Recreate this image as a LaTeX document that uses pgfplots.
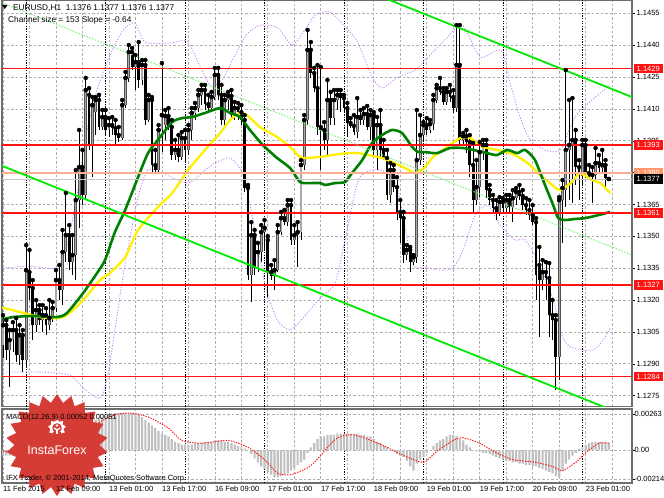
\documentclass[border=0pt]{standalone}
\usepackage{fontspec}
\setmainfont{Liberation Sans}
\usepackage{pgfplots}
\pgfplotsset{compat=1.18}
\usepackage{pgfplotstable}
\usetikzlibrary{shapes.geometric}

\definecolor{mtred}{RGB}{255,20,20}
\definecolor{mtsalmon}{RGB}{255,175,145}
\definecolor{mtorange}{RGB}{255,150,105}
\definecolor{mtgrid}{RGB}{175,175,175}
\definecolor{mtframe}{RGB}{110,110,110}
\definecolor{mtyellow}{RGB}{255,240,0}
\definecolor{mtdkgreen}{RGB}{0,128,0}
\definecolor{mtlime}{RGB}{0,235,0}
\definecolor{mtltgreen}{RGB}{120,240,120}
\definecolor{mtviolet}{RGB}{195,125,245}
\definecolor{mthist}{RGB}{192,192,192}
\definecolor{mtbullout}{RGB}{80,80,80}
\definecolor{mtbullin}{RGB}{170,170,170}
\definecolor{badge}{RGB}{214,60,54}
\definecolor{curline}{RGB}{200,200,200}

\newcommand{\tf}{\fontsize{7.5bp}{9bp}\selectfont}
\newcommand{\hf}{\fontsize{8.3bp}{10bp}\selectfont}

\pgfplotstableread{
x o h l c
0 1.12988 1.13129 1.12927 1.13082
1 1.13082 1.13106 1.12917 1.12965
2 1.12965 1.13059 1.12790 1.13012
3 1.13012 1.13096 1.12955 1.13059
4 1.13059 1.13115 1.12908 1.12941
5 1.12941 1.13082 1.12894 1.13035
6 1.13035 1.13059 1.12861 1.12917
7 1.12917 1.13459 1.12880 1.13341
8 1.13332 1.13436 1.13200 1.13256
9 1.13256 1.13294 1.13012 1.13082
10 1.13082 1.13200 1.13049 1.13153
11 1.13153 1.13176 1.13082 1.13106
12 1.13106 1.13176 1.13049 1.13129
13 1.13129 1.13162 1.13035 1.13082
14 1.13082 1.13200 1.13059 1.13115
15 1.13115 1.13191 1.13096 1.13162
16 1.13162 1.13341 1.13144 1.13294
17 1.13294 1.13365 1.13200 1.13247
18 1.13247 1.13530 1.13176 1.13426
19 1.13426 1.13704 1.13379 1.13506
20 1.13506 1.13553 1.13341 1.13379
21 1.13379 1.13506 1.13318 1.13412
22 1.13412 1.13812 1.13294 1.13671
23 1.13671 1.14001 1.13539 1.13826
24 1.13826 1.13907 1.13647 1.13695
25 1.13695 1.14246 1.13671 1.14189
26 1.14166 1.14198 1.13907 1.13930
27 1.13930 1.14156 1.13779 1.14118
28 1.14085 1.14156 1.13977 1.14142
29 1.14142 1.14166 1.14001 1.14015
30 1.14015 1.14095 1.14001 1.14062
31 1.14062 1.14095 1.13977 1.14001
32 1.14001 1.14057 1.13968 1.14024
33 1.14024 1.14062 1.13977 1.14010
34 1.14010 1.14048 1.13930 1.13977
35 1.13977 1.14015 1.13944 1.13963
36 1.13963 1.14142 1.13954 1.14118
37 1.14118 1.14274 1.14104 1.14246
38 1.14246 1.14401 1.14227 1.14368
39 1.14368 1.14387 1.14283 1.14297
40 1.14297 1.14354 1.14189 1.14321
41 1.14321 1.14415 1.14198 1.14236
42 1.14236 1.14330 1.14213 1.14307
43 1.14307 1.14330 1.14024 1.14048
44 1.14048 1.14166 1.14038 1.14142
45 1.14142 1.14156 1.13803 1.13836
46 1.13836 1.13907 1.13798 1.13812
47 1.13812 1.14024 1.13798 1.14001
48 1.14001 1.14316 1.13897 1.14071
49 1.14024 1.14095 1.13954 1.14067
50 1.14067 1.14104 1.14001 1.14015
51 1.14015 1.14048 1.13859 1.13883
52 1.13883 1.13954 1.13859 1.13907
53 1.13907 1.13977 1.13850 1.13874
54 1.13874 1.13991 1.13859 1.13963
55 1.13963 1.14001 1.13845 1.13907
56 1.13907 1.14024 1.13883 1.14001
57 1.14001 1.14104 1.13954 1.14081
58 1.14081 1.14128 1.14048 1.14104
59 1.14104 1.14189 1.14085 1.14166
60 1.14166 1.14213 1.14118 1.14189
61 1.14189 1.14213 1.14095 1.14123
62 1.14123 1.14166 1.14085 1.14104
63 1.14104 1.14180 1.14085 1.14156
64 1.14156 1.14293 1.14142 1.14260
65 1.14260 1.14293 1.14142 1.14166
66 1.14166 1.14213 1.14024 1.14048
67 1.14048 1.14166 1.14024 1.14142
68 1.14142 1.14180 1.14095 1.14161
69 1.14161 1.14189 1.14048 1.14071
70 1.14071 1.14133 1.14048 1.14104
71 1.14104 1.14128 1.14048 1.14085
72 1.14085 1.14118 1.14024 1.14048
73 1.14048 1.14071 1.13709 1.13728
74 1.13728 1.13742 1.13294 1.13318
75 1.13318 1.13567 1.13191 1.13506
76 1.13506 1.13530 1.13318 1.13351
77 1.13351 1.13469 1.13332 1.13426
78 1.13426 1.13553 1.13379 1.13520
79 1.13520 1.13577 1.13436 1.13539
80 1.13483 1.13501 1.13214 1.13332
81 1.13332 1.13365 1.13294 1.13313
82 1.13313 1.13388 1.13247 1.13341
83 1.13341 1.13553 1.13332 1.13520
84 1.13520 1.13615 1.13506 1.13586
85 1.13586 1.13624 1.13553 1.13567
86 1.13567 1.13671 1.13549 1.13647
87 1.13647 1.13671 1.13459 1.13483
88 1.13483 1.13553 1.13459 1.13506
89 1.13506 1.13567 1.13355 1.13520
90 1.13520 1.13859 1.13483 1.13836
91 1.13836 1.14071 1.13812 1.14048
92 1.14048 1.14472 1.14024 1.14378
93 1.14378 1.14415 1.14246 1.14269
94 1.14269 1.14293 1.14180 1.14198
95 1.14198 1.14307 1.13977 1.14015
96 1.14015 1.14297 1.13812 1.14001
97 1.14001 1.14038 1.13907 1.13954
98 1.13954 1.14236 1.13874 1.14142
99 1.14142 1.14180 1.14024 1.14057
100 1.14057 1.14189 1.14024 1.14142
101 1.14142 1.14189 1.14095 1.14166
102 1.14166 1.14189 1.14085 1.14151
103 1.14151 1.14166 1.14085 1.14104
104 1.14104 1.14128 1.13968 1.14034
105 1.14034 1.14057 1.14010 1.14020
106 1.14020 1.14071 1.13977 1.13991
107 1.13991 1.14151 1.13963 1.14062
108 1.14062 1.14095 1.14024 1.14048
109 1.14048 1.14104 1.14024 1.14076
110 1.14076 1.14114 1.14001 1.14015
111 1.14015 1.14095 1.13954 1.14071
112 1.14071 1.14085 1.13874 1.13907
113 1.13907 1.14062 1.13812 1.14024
114 1.14024 1.14095 1.13869 1.13907
115 1.13907 1.13954 1.13859 1.13869
116 1.13869 1.13907 1.13671 1.13695
117 1.13695 1.13845 1.13657 1.13812
118 1.13812 1.13836 1.13709 1.13732
119 1.13732 1.13779 1.13577 1.13615
120 1.13615 1.13671 1.13469 1.13586
121 1.13586 1.13615 1.13374 1.13412
122 1.13412 1.13459 1.13388 1.13436
123 1.13436 1.13450 1.13332 1.13379
124 1.13379 1.13412 1.13365 1.13402
125 1.13402 1.14095 1.13374 1.13859
126 1.13859 1.14071 1.13836 1.13977
127 1.13977 1.14038 1.13944 1.14024
128 1.14024 1.14057 1.13977 1.14001
129 1.14001 1.14048 1.13987 1.14029
130 1.14029 1.14166 1.14001 1.14142
131 1.14142 1.14213 1.14128 1.14198
132 1.14198 1.14246 1.14166 1.14180
133 1.14180 1.14198 1.14118 1.14133
134 1.14133 1.14198 1.14118 1.14180
135 1.14180 1.14213 1.14133 1.14156
136 1.14156 1.14189 1.14081 1.14104
137 1.14104 1.14495 1.14085 1.14307
138 1.14307 1.14495 1.13930 1.13954
139 1.13954 1.13987 1.13930 1.13972
140 1.13972 1.14001 1.13892 1.13944
141 1.13944 1.13977 1.13779 1.13836
142 1.13836 1.13940 1.13610 1.13671
143 1.13671 1.13859 1.13647 1.13732
144 1.13732 1.13944 1.13685 1.13897
145 1.13897 1.13954 1.13859 1.13930
146 1.13930 1.13954 1.13680 1.13718
147 1.13718 1.13742 1.13647 1.13671
148 1.13671 1.13695 1.13615 1.13633
149 1.13633 1.13671 1.13577 1.13615
150 1.13615 1.13685 1.13596 1.13662
151 1.13662 1.13680 1.13615 1.13633
152 1.13633 1.13695 1.13615 1.13671
153 1.13671 1.13695 1.13615 1.13638
154 1.13638 1.13718 1.13567 1.13680
155 1.13680 1.13728 1.13647 1.13709
156 1.13709 1.13742 1.13671 1.13690
157 1.13690 1.13718 1.13624 1.13647
158 1.13647 1.13680 1.13600 1.13624
159 1.13624 1.13671 1.13577 1.13600
160 1.13600 1.13647 1.13553 1.13567
161 1.13567 1.13586 1.13200 1.13318
162 1.13365 1.13450 1.13026 1.13294
163 1.13294 1.13388 1.13247 1.13332
164 1.13332 1.13379 1.13200 1.13304
165 1.13304 1.13374 1.13026 1.13129
166 1.13129 1.13200 1.13012 1.13106
167 1.13106 1.13129 1.12776 1.12932
168 1.12932 1.13685 1.12823 1.13671
169 1.13671 1.13765 1.13469 1.13728
170 1.13718 1.14283 1.13638 1.13907
171 1.13907 1.14142 1.13671 1.13930
172 1.13930 1.14151 1.13657 1.13954
173 1.13954 1.14001 1.13742 1.13826
174 1.13826 1.13859 1.13671 1.13789
175 1.13784 1.13954 1.13742 1.13930
176 1.13930 1.13954 1.13775 1.13798
177 1.13798 1.13836 1.13765 1.13779
178 1.13779 1.13826 1.13657 1.13789
179 1.13789 1.13916 1.13765 1.13845
180 1.13845 1.13883 1.13803 1.13822
181 1.13822 1.13907 1.13803 1.13836
182 1.13836 1.13859 1.13728 1.13775
183 1.13760 1.13770 1.13760 1.13770
}\candles

\pgfplotstableread{
x y
-0.9 1.13167
5.1 1.13144
11.2 1.13120
16.3 1.13115
19.3 1.13129
24.2 1.13200
29.3 1.13294
32.3 1.13327
36.9 1.13402
40.8 1.13530
46.8 1.13638
51.1 1.13704
55.9 1.13812
61.0 1.13907
65.6 1.13987
68.6 1.14048
71.6 1.14081
73.7 1.14071
77.6 1.14015
82.8 1.13968
86.7 1.13921
89.7 1.13874
91.8 1.13869
95.8 1.13874
99.4 1.13883
104.2 1.13892
107.3 1.13892
110.3 1.13883
114.5 1.13869
118.4 1.13845
121.5 1.13822
124.5 1.13798
127.5 1.13826
129.9 1.13874
134.1 1.13921
138.1 1.13963
141.1 1.13963
145.0 1.13921
149.2 1.13907
153.2 1.13892
156.2 1.13869
159.2 1.13836
161.6 1.13798
165.9 1.13742
168.3 1.13718
171.9 1.13756
174.3 1.13798
177.9 1.13765
180.4 1.13751
183.4 1.13704
}\mayellow

\pgfplotstableread{
x y
-0.9 1.13106
3.0 1.13120
9.1 1.13125
16.3 1.13120
19.3 1.13139
24.2 1.13233
28.4 1.13327
30.8 1.13388
33.8 1.13520
36.9 1.13624
40.8 1.13779
43.8 1.13892
46.8 1.13954
51.1 1.14038
54.1 1.14057
57.1 1.14062
61.0 1.14081
65.6 1.14104
68.6 1.14081
71.6 1.14062
74.6 1.14001
78.5 1.13930
82.8 1.13869
86.7 1.13822
89.7 1.13756
91.8 1.13751
95.8 1.13751
97.3 1.13742
100.3 1.13751
103.3 1.13756
105.4 1.13798
108.5 1.13859
111.5 1.13940
114.5 1.13977
117.5 1.14001
120.5 1.13987
123.6 1.13921
125.4 1.13897
127.5 1.13897
131.1 1.13892
135.0 1.13916
139.0 1.13916
142.0 1.13907
146.2 1.13892
149.2 1.13883
152.3 1.13907
155.3 1.13892
157.7 1.13907
160.7 1.13859
163.7 1.13742
166.2 1.13647
167.7 1.13586
169.8 1.13577
172.8 1.13582
175.8 1.13586
179.8 1.13600
183.4 1.13615
}\magreen

\pgfplotstableread{
x y
0.0 1.13351
8.2 1.13360
15.7 1.13351
19.0 1.13436
22.1 1.13671
25.1 1.13977
28.4 1.14189
32.3 1.14354
36.3 1.14472
39.9 1.14505
42.9 1.14415
50.5 1.14410
55.6 1.14420
58.9 1.14321
62.5 1.14213
66.2 1.14236
70.1 1.14354
74.0 1.14458
78.2 1.14495
83.1 1.14481
87.3 1.14401
91.2 1.14472
94.3 1.14542
98.8 1.14556
104.2 1.14472
107.3 1.14410
111.5 1.14250
114.5 1.14198
119.3 1.14250
124.5 1.14283
129.0 1.14354
133.5 1.14425
138.7 1.14495
144.1 1.14345
149.2 1.14378
151.1 1.14363
153.2 1.14222
156.2 1.14062
159.2 1.13954
163.7 1.13907
168.3 1.13907
172.8 1.14062
177.9 1.14142
183.4 1.14213
}\bandup

\pgfplotstableread{
x y
0.0 1.12861
11.2 1.12861
20.2 1.12847
24.2 1.12786
29.3 1.12738
31.7 1.12847
33.8 1.13059
36.9 1.13374
40.8 1.13685
43.8 1.13812
48.0 1.13798
55.9 1.13751
61.0 1.13812
64.0 1.13845
68.6 1.13869
72.5 1.13789
76.1 1.13530
79.2 1.13271
82.8 1.13106
86.7 1.13059
90.6 1.13115
95.2 1.13200
100.3 1.13280
103.3 1.13483
107.3 1.13765
111.5 1.13812
115.4 1.13803
119.3 1.13718
123.6 1.13374
127.5 1.13355
132.0 1.13341
135.9 1.13351
139.0 1.13436
142.6 1.13600
146.5 1.13647
150.2 1.13553
154.7 1.13483
157.7 1.13483
162.2 1.13365
166.2 1.13200
169.2 1.13021
172.2 1.12974
178.2 1.12965
181.3 1.13012
183.4 1.13068
}\bandlo

\pgfplotstableread{
x v
0 -0.0004
1 -0.0004
2 -0.0004
3 -0.0004
4 -0.0004
5 -0.0003
6 -0.0003
7 -0.0002
8 0.0000
9 0.0001
10 0.0002
11 0.0004
12 0.0006
13 0.0008
14 0.0009
15 0.0010
16 0.0010
17 0.0011
18 0.0012
19 0.0012
20 0.0013
21 0.0014
22 0.0015
23 0.0017
24 0.0018
25 0.0019
26 0.0020
27 0.0021
28 0.0022
29 0.0023
30 0.0024
31 0.0025
32 0.0026
33 0.0026
34 0.0027
35 0.0027
36 0.0027
37 0.0027
38 0.0027
39 0.0027
40 0.0026
41 0.0026
42 0.0024
43 0.0022
44 0.0020
45 0.0018
46 0.0016
47 0.0014
48 0.0012
49 0.0011
50 0.0010
51 0.0008
52 0.0006
53 0.0005
54 0.0004
55 0.0004
56 0.0004
57 0.0004
58 0.0005
59 0.0005
60 0.0005
61 0.0006
62 0.0006
63 0.0006
64 0.0007
65 0.0007
66 0.0007
67 0.0006
68 0.0006
69 0.0005
70 0.0004
71 0.0003
72 0.0002
73 0.0001
74 0.0000
75 -0.0003
76 -0.0006
77 -0.0009
78 -0.0012
79 -0.0014
80 -0.0016
81 -0.0018
82 -0.0020
83 -0.0020
84 -0.0019
85 -0.0018
86 -0.0017
87 -0.0015
88 -0.0013
89 -0.0011
90 -0.0009
91 -0.0007
92 -0.0002
93 0.0002
94 0.0005
95 0.0008
96 0.0010
97 0.0010
98 0.0011
99 0.0011
100 0.0011
101 0.0012
102 0.0012
103 0.0012
104 0.0012
105 0.0012
106 0.0012
107 0.0012
108 0.0011
109 0.0011
110 0.0010
111 0.0010
112 0.0008
113 0.0006
114 0.0005
115 0.0003
116 0.0002
117 0.0000
118 -0.0001
119 -0.0003
120 -0.0004
121 -0.0005
122 -0.0008
123 -0.0012
124 -0.0015
125 -0.0010
126 -0.0007
127 -0.0005
128 -0.0002
129 0.0000
130 0.0003
131 0.0005
132 0.0007
133 0.0008
134 0.0010
135 0.0011
136 0.0011
137 0.0010
138 0.0008
139 0.0007
140 0.0004
141 0.0002
142 0.0000
143 -0.0001
144 -0.0001
145 -0.0002
146 -0.0002
147 -0.0003
148 -0.0004
149 -0.0005
150 -0.0006
151 -0.0007
152 -0.0008
153 -0.0008
154 -0.0009
155 -0.0009
156 -0.0010
157 -0.0010
158 -0.0011
159 -0.0011
160 -0.0012
161 -0.0012
162 -0.0013
163 -0.0014
164 -0.0015
165 -0.0016
166 -0.0017
167 -0.0019
168 -0.0020
169 -0.0015
170 -0.0010
171 -0.0007
172 -0.0004
173 -0.0002
174 0.0001
175 0.0002
176 0.0004
177 0.0005
178 0.0006
179 0.0006
180 0.0006
181 0.0006
182 0.0006
183 0.0005
}\macdhist

\pgfplotstableread{
x v
0 -0.0001
14 0.0000
20 0.0004
24 0.0009
29 0.0020
34 0.0026
39 0.0027
44 0.0024
50 0.0016
54 0.0007
60 0.0005
68 0.0007
74 0.0002
79 -0.0007
83 -0.0017
87 -0.0018
92 -0.0013
94 -0.0009
96 -0.0004
98 0.0002
100 0.0007
102 0.0010
104 0.0011
106 0.0011
109 0.0009
116 0.0002
121 -0.0004
127 -0.0009
131 -0.0001
136 0.0007
139 0.0009
144 0.0005
149 -0.0002
154 -0.0007
161 -0.0009
166 -0.0012
169 -0.0015
173 -0.0009
176 -0.0002
180 0.0005
183 0.0005
}\macdsig

\tikzset{
  mtxlab/.style={anchor=north west, inner sep=0pt, font=\tf, yshift=-3bp},
  pbox/.style={anchor=west, xshift=1.5bp, text=white, font=\tf, inner xsep=1bp, inner ysep=0.5bp, minimum height=9.5bp, minimum width=29bp}
}
\pgfplotsset{
  mtaxis/.style={
    scale only axis, width=630bp, xmin=-0.3, xmax=190,
    scaled ticks=false,
    axis line style={draw=mtframe, line width=1.2bp},
    tick label style={font=\tf},
    xmajorgrids, ymajorgrids,
    grid style={draw=mtgrid, line width=0.7bp, dash pattern=on 2.5bp off 2bp},
    xtick={0,8,...,184}, xtick style={draw=none},
    extra x ticks={7,31,55,79,103,127,151,175}, extra x tick labels={},
    extra x tick style={major tick length=0pt, grid style={draw=black, line width=0.8bp, dash pattern=on 1.3bp off 1.3bp}},
    yticklabel pos=right, ytick pos=right, ytick align=outside, major tick length=3bp,
    ytick style={draw=black, line width=0.6bp},
    yticklabel style={anchor=west, inner sep=0pt, xshift=1.5bp},
  }
}

\begin{document}
\begin{tikzpicture}[x=1bp,y=1bp]
\useasboundingbox (0,0) rectangle (664,-498);

% ---------- price panel ----------
\begin{axis}[mtaxis,
  at={(2bp,0bp)}, anchor=north west, height=406.7bp,
  ymin=1.12698, ymax=1.14613,
  xticklabels={},
  ytick={1.1275,1.1290,1.1305,1.1320,1.1335,1.1350,1.1365,1.1380,1.1395,1.1410,1.1425,1.1440,1.1455},
  yticklabels={1.1275,1.1290,1.1305,1.1320,1.1335,1.1350,1.1365,1.1380,1.1395,1.1410,1.1425,1.1440,1.1455},
]
\addplot[mtviolet, line width=0.8bp, dash pattern=on 1.2bp off 1.6bp, smooth, tension=0.4] table[x=x,y=y] {\bandup};
\addplot[mtviolet, line width=0.8bp, dash pattern=on 1.2bp off 1.6bp, smooth, tension=0.4] table[x=x,y=y] {\bandlo};
% wicks
\addplot[only marks, mark=none, error bars/.cd, y dir=minus, y explicit, error mark=none,
  error bar style={draw=black, line width=0.8bp, solid}]
  table[x=x, y=h, y error minus expr=\thisrow{h}-\thisrow{l}] {\candles};
% bull bodies
\addplot[only marks, mark=none, restrict expr to domain={\thisrow{c}-\thisrow{o}}{0:1},
  error bars/.cd, y dir=minus, y explicit, error mark=none,
  error bar style={draw=mtbullout, line width=2.8bp, solid}]
  table[x=x, y=c, y error minus expr=\thisrow{c}-\thisrow{o}] {\candles};
\addplot[only marks, mark=none, restrict expr to domain={\thisrow{c}-\thisrow{o}}{0:1},
  error bars/.cd, y dir=minus, y explicit, error mark=none,
  error bar style={draw=mtbullin, line width=1.1bp, solid}]
  table[x=x, y=c, y error minus expr=\thisrow{c}-\thisrow{o}] {\candles};
% bear bodies
\addplot[only marks, mark=none, restrict expr to domain={\thisrow{c}-\thisrow{o}}{-1:0},
  error bars/.cd, y dir=minus, y explicit, error mark=none,
  error bar style={draw=black, line width=2.8bp, solid}]
  table[x=x, y=o, y error minus expr=\thisrow{o}-\thisrow{c}] {\candles};
% moving averages
\addplot[mtyellow, line width=2.3bp, smooth, tension=0.4] table[x=x,y=y] {\mayellow};
\addplot[mtdkgreen, line width=2.6bp, smooth, tension=0.4] table[x=x,y=y] {\magreen};
% levels
\addplot[mtsalmon, line width=1.8bp] coordinates {(-1,1.1380) (191,1.1380)};
\addplot[curline, line width=0.8bp] coordinates {(-1,1.1377) (191,1.1377)};
\addplot[mtred, line width=1.8bp] coordinates {(-1,1.1429) (191,1.1429)};
\addplot[mtred, line width=1.8bp] coordinates {(-1,1.1393) (191,1.1393)};
\addplot[mtred, line width=1.8bp] coordinates {(-1,1.1361) (191,1.1361)};
\addplot[mtred, line width=1.8bp] coordinates {(-1,1.1327) (191,1.1327)};
\addplot[mtred, line width=1.8bp] coordinates {(-1,1.1284) (191,1.1284)};
% regression channel
\addplot[mtlime, line width=1.8bp] coordinates {(110,1.14655) (190,1.14156)};
\addplot[mtlime, line width=1.8bp] coordinates {(-0.9,1.13836) (190,1.12644)};
\addplot[mtltgreen, line width=1bp, dash pattern=on 1.5bp off 1.5bp] coordinates {(0,1.14599) (190,1.13412)};
\coordinate (L1429) at (axis cs:190,1.1429);
\coordinate (L1393) at (axis cs:190,1.1393);
\coordinate (L1380) at (axis cs:190,1.1380);
\coordinate (L1377) at (axis cs:190,1.1377);
\coordinate (L1361) at (axis cs:190,1.1361);
\coordinate (L1327) at (axis cs:190,1.1327);
\coordinate (L1284) at (axis cs:190,1.1284);
\end{axis}

% ---------- MACD panel ----------
\begin{axis}[mtaxis,
  at={(2bp,-409bp)}, anchor=north west, height=74bp,
  ymin=-0.00241, ymax=0.00300,
  xticklabels={{},{},{},{},13 Feb 01:00,{},13 Feb 17:00,{},16 Feb 09:00,{},17 Feb 01:00,{},17 Feb 17:00,{},18 Feb 09:00,{},19 Feb 01:00,{},19 Feb 17:00,{},20 Feb 09:00,{},23 Feb 01:00,{}},
  xticklabel style={anchor=north west, inner sep=0pt, yshift=-3bp},
  ytick={-0.00214,0,0.00263},
  yticklabels={-0.00214,0.00,0.00263},
  yticklabel style={anchor=west, inner sep=0pt, xshift=-2bp},
]
\addplot[ybar, bar width=2.2bp, fill=mthist, draw=none] table[x=x,y=v] {\macdhist};
\addplot[mtred, line width=1bp, dash pattern=on 1.3bp off 1.3bp, smooth, tension=0.4] table[x=x,y=v] {\macdsig};
\coordinate (X0) at (axis cs:0,-0.00241);
\coordinate (X16) at (axis cs:16,-0.00241);
\end{axis}

% ---------- price labels on the right ----------
\node[pbox, fill=mtred] at (L1429) {1.1429};
\node[pbox, fill=mtred] at (L1393) {1.1393};
\node[pbox, fill=mtorange] at (L1380) {1.1380};
\node[pbox, fill=black] at (L1377) {1.1377};
\node[pbox, fill=mtred] at (L1361) {1.1361};
\node[pbox, fill=mtred] at (L1327) {1.1327};
\node[pbox, fill=mtred] at (L1284) {1.1284};

% ---------- header texts ----------
\fill (2,-5) -- (7.5,-5) -- (4.75,-9) -- cycle;
\node[anchor=base west, inner sep=0pt, font=\hf] at (13,-11) {EURUSD,H1\ \ 1.1376 1.1377 1.1376 1.1377};
\node[anchor=base west, inner sep=0pt, font=\hf] at (8,-22.5) {Channel size = 153 Slope = -0.64};

% ---------- InstaForex badge ----------
\node[star, star points=22, star point ratio=1.2, fill=badge, minimum size=102bp, inner sep=0pt] at (57,-445) {};
\node[star, star points=9, star point ratio=1.35, fill=white, minimum size=18bp, inner sep=0pt] at (57,-428) {};
\fill[badge] (57,-428) circle (4.8bp);
\fill[badge] (53,-438) rectangle (61,-432);
\fill[white] (57,-425.5) circle (1.4bp);
\draw[white, line width=1.3bp] (54,-428) -- (57,-430) -- (60,-428);
\draw[white, line width=1.3bp] (57,-430) -- (57,-434);
\node[text=white, font=\fontsize{12.5bp}{14bp}\selectfont] at (57,-450) {InstaForex};

% ---------- texts over the badge ----------
\node[anchor=base west, inner sep=0pt, font=\tf] at (6,-419) {MACD(12,26,9) 0.00052 0.00051};
\node[anchor=base west, inner sep=0pt, font=\tf] at (6,-480) {IFX Trader, © 2001-2014, MetaQuotes Software Corp.};
\node[mtxlab] at (X0) {11 Feb 2015};
\node[mtxlab] at (X16) {12 Feb 09:00};
\end{tikzpicture}
\end{document}
